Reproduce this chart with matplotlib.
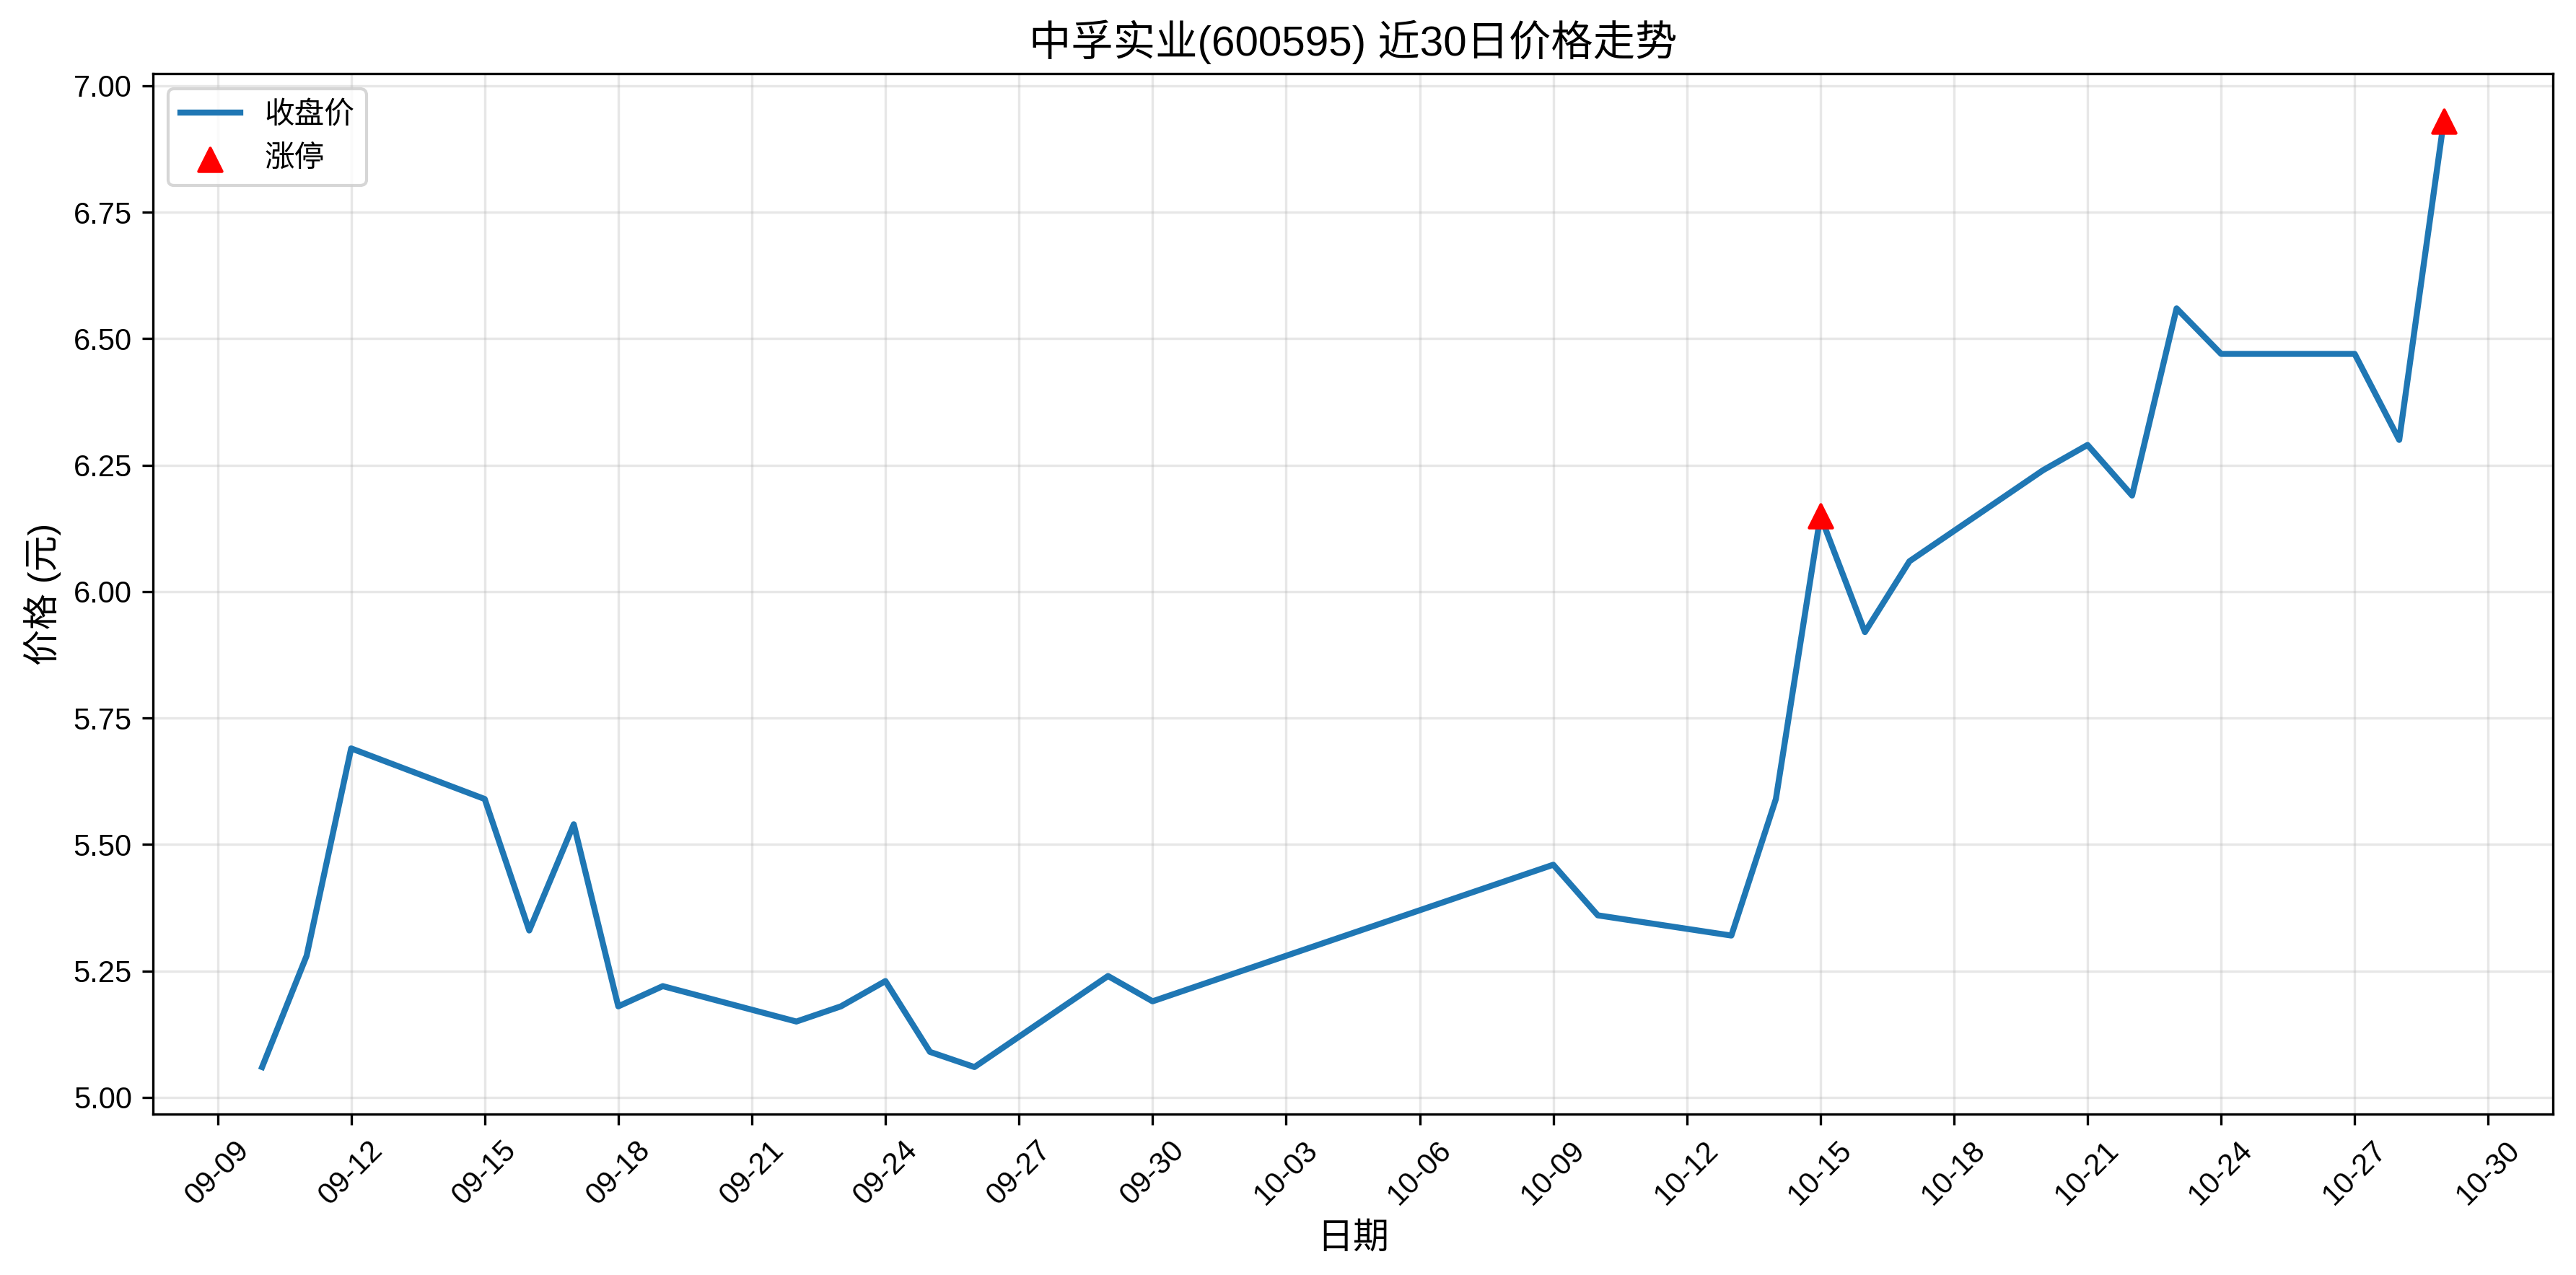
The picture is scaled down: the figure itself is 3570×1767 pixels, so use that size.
import matplotlib
matplotlib.use('Agg')
import matplotlib.pyplot as plt
import matplotlib.dates as mdates
import pandas as pd

plt.rcParams['font.family'] = ['Liberation Sans', 'Noto Sans CJK SC']
plt.rcParams['axes.unicode_minus'] = False

# 收盘价数据 (2025)
dates = ['09-10', '09-11', '09-12', '09-15', '09-16', '09-17', '09-18', '09-19',
         '09-22', '09-23', '09-24', '09-25', '09-26', '09-29', '09-30',
         '10-09', '10-10', '10-13', '10-14', '10-15', '10-16', '10-17',
         '10-20', '10-21', '10-22', '10-23', '10-24', '10-27', '10-28', '10-29']
close = [5.06, 5.28, 5.69, 5.59, 5.33, 5.54, 5.18, 5.22,
         5.15, 5.18, 5.23, 5.09, 5.06, 5.24, 5.19,
         5.46, 5.36, 5.32, 5.59, 6.15, 5.92, 6.06,
         6.24, 6.29, 6.19, 6.56, 6.47, 6.47, 6.30, 6.93]
limit_up_dates = ['10-15', '10-29']

x = pd.to_datetime(['2025-' + d for d in dates])
close_map = dict(zip(dates, close))
lu_x = pd.to_datetime(['2025-' + d for d in limit_up_dates])
lu_y = [close_map[d] for d in limit_up_dates]

fig, ax = plt.subplots(figsize=(11.9, 5.89), dpi=300)
fig.subplots_adjust(left=0.0594, right=0.991, top=0.942, bottom=0.126)

ax.plot(x, close, color='#1f77b4', linewidth=2, label='收盘价')
ax.scatter(lu_x, lu_y, color='red', marker='^', s=60, zorder=5, label='涨停')

ax.set_title('中孚实业(600595) 近30日价格走势', fontsize=14)
ax.set_xlabel('日期', fontsize=12)
ax.set_ylabel('价格 (元)', fontsize=12)

ax.set_xticks(pd.date_range('2025-09-09', '2025-10-30', freq='3D'))
ax.xaxis.set_major_formatter(mdates.DateFormatter('%m-%d'))
plt.setp(ax.get_xticklabels(), rotation=45)
ax.grid(True, alpha=0.3)
ax.legend(loc='upper left')

fig.savefig('out.png', dpi=300)
